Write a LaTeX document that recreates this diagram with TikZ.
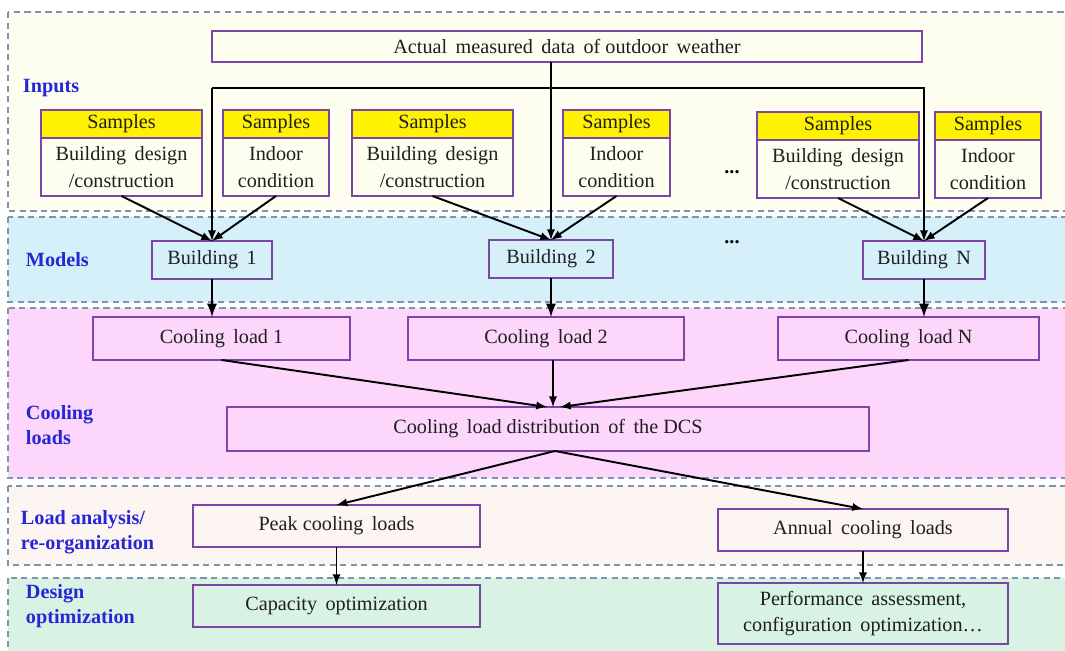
\documentclass[tikz,border=0pt]{standalone}
\usepackage{fontspec}
\setmainfont{Liberation Serif}
\usepackage {tikz}
\usetikzlibrary {positioning}
\usetikzlibrary{arrows.meta}
\definecolor{bandline}{RGB}{125,148,172}
\definecolor{boxpurple}{RGB}{124,70,166}
\definecolor{sampleyellow}{RGB}{255,242,0}
\definecolor{layerblue}{RGB}{38,38,215}
\definecolor{inputsbg}{RGB}{253,253,240}
\definecolor{modelsbg}{RGB}{214,240,250}
\definecolor{coolingbg}{RGB}{253,214,251}
\definecolor{analysisbg}{RGB}{253,245,242}
\definecolor{designbg}{RGB}{216,243,228}
\tikzset{
    band/.style = {-, draw=bandline, dash pattern=on 3.5pt off 2.5pt, line width=0.7pt},
    box/.style = {rectangle, draw=boxpurple, line width=1.1pt, inner sep=0pt, outer sep=0pt, align=center, text=black!88},
    head/.style = {box, fill=sampleyellow, minimum height=0.56cm},
    body/.style = {box, minimum height=1.16cm},
    layer/.style = {text=layerblue, font=\fontsize{11.5}{14}\selectfont\bfseries, anchor=west, align=left, inner sep=0pt}}

\begin{document}
\begin{tikzpicture}[-latex, x=0.02cm, y=-0.02cm, line width=1.1pt,
    font=\fontsize{11.5}{15}\selectfont,
    onebox/.style={box, minimum height=0.76cm},
    widebox/.style={box, minimum height=0.86cm},
    thick arrow/.style={line width=1.6pt}
    ]
    \useasboundingbox (0,0) rectangle (1065,650);
    \path[band, fill=inputsbg] (8,12) rectangle (1080,211);
    \path[band, fill=modelsbg] (8,217) rectangle (1080,302);
    \path[band, fill=coolingbg] (8,308) rectangle (1080,478);
    \path[band, fill=analysisbg] (8,486) rectangle (1080,565);
    \path[band, fill=designbg] (8,578) rectangle (1080,670);

    \node (lin) [layer] at (22,88) {Inputs};
    \node (lmod) [layer] at (25,260) {Models};
    \node (lcool) [layer] at (25,425) {Cooling\\loads};
    \node (lana) [layer] at (20,532) {Load analysis/\\re-organization};
    \node (ldes) [layer] at (25,606) {Design\\optimization};

    \node (weather) [box, minimum width=14.2cm, minimum height=0.62cm] at (567,46.5) {Actual\, measured\, data\, of outdoor\, weather};

    \node (a1h) [head, minimum width=3.22cm] at (121.5,124) {Samples};
    \node (a1b) [body, minimum width=3.22cm, below = 0pt of a1h] {Building\, design\\/construction};
    \node (b1h) [head, minimum width=2.12cm] at (276,124) {Samples};
    \node (b1b) [body, minimum width=2.12cm, below = 0pt of b1h] {Indoor\\condition};
    \node (a2h) [head, minimum width=3.22cm] at (432.5,124) {Samples};
    \node (a2b) [body, minimum width=3.22cm, below = 0pt of a2h] {Building\, design\\/construction};
    \node (b2h) [head, minimum width=2.14cm] at (616.5,124) {Samples};
    \node (b2b) [body, minimum width=2.14cm, below = 0pt of b2h] {Indoor\\condition};
    \node (a3h) [head, minimum width=3.24cm] at (838,126) {Samples};
    \node (a3b) [body, minimum width=3.24cm, below = 0pt of a3h] {Building\, design\\/construction};
    \node (b3h) [head, minimum width=2.12cm] at (988,126) {Samples};
    \node (b3b) [body, minimum width=2.12cm, below = 0pt of b3h] {Indoor\\condition};
    \node (dotsin) at (732,172) {\textbf{...}};

    \node (bld1) [onebox, minimum width=2.4cm] at (212,260) {Building\, 1};
    \node (bld2) [onebox, minimum width=2.48cm] at (551,259) {Building\, 2};
    \node (bldN) [onebox, minimum width=2.44cm] at (924,260) {Building\, N};
    \node (dotsmod) at (732,242) {\textbf{...}};

    \node (cl1) [widebox, minimum width=5.14cm] at (221.5,338.5) {Cooling\, load 1};
    \node (cl2) [widebox, minimum width=5.52cm] at (546,338.5) {Cooling\, load 2};
    \node (clN) [widebox, minimum width=5.22cm] at (908.5,338.5) {Cooling\, load N};
    \node (dist) [box, minimum width=12.84cm, minimum height=0.88cm] at (548,429) {Cooling\, load distribution\, of\, the DCS};

    \node (peak) [box, minimum width=5.74cm, minimum height=0.84cm] at (336.5,526) {Peak cooling\, loads};
    \node (annual) [box, minimum width=5.8cm, minimum height=0.84cm] at (863,530) {Annual\, cooling\, loads};
    \node (cap) [box, minimum width=5.74cm, minimum height=0.84cm] at (336.5,606) {Capacity\, optimization};
    \node (perf) [box, minimum width=5.8cm, minimum height=1.22cm] at (863,613.5) {Performance\, assessment,\\configuration\, optimization\dots};

    \path (0,88) coordinate (busY);
    \coordinate (busL) at (bld1.north |- busY);
    \coordinate (busR) at (bldN.north |- busY);
    \draw (bld2.north |- weather.south) -- (bld2.north);
    \draw (busL) -- (bld1.north);
    \draw (busL) -- (busR) -- (bldN.north);
    \draw (a1b.south) -- (bld1.north);
    \draw (b1b.south) -- (bld1.north);
    \draw (a2b.south) -- (bld2.north);
    \draw (b2b.south) -- (bld2.north);
    \draw (a3b.south) -- (bldN.north);
    \draw (b3b.south) -- (bldN.north);
    \draw[thick arrow] (bld1.south) -- (bld1.south |- cl1.north);
    \draw[thick arrow] (bld2.south) -- (bld2.south |- cl2.north);
    \draw[thick arrow] (bldN.south) -- (bldN.south |- clN.north);
    \draw (cl1.south) -- ([xshift=-0.02cm]dist.north);
    \draw ([xshift=0.14cm]cl2.south) -- ([xshift=0.1cm]dist.north);
    \draw (clN.south) -- ([xshift=0.24cm]dist.north);
    \draw ([xshift=0.14cm]dist.south) -- (peak.north);
    \draw ([xshift=0.14cm]dist.south) -- (annual.north);
    \draw (peak.south) -- (cap.north);
    \draw (annual.south) -- (perf.north);
    \end{tikzpicture}
\end{document}
